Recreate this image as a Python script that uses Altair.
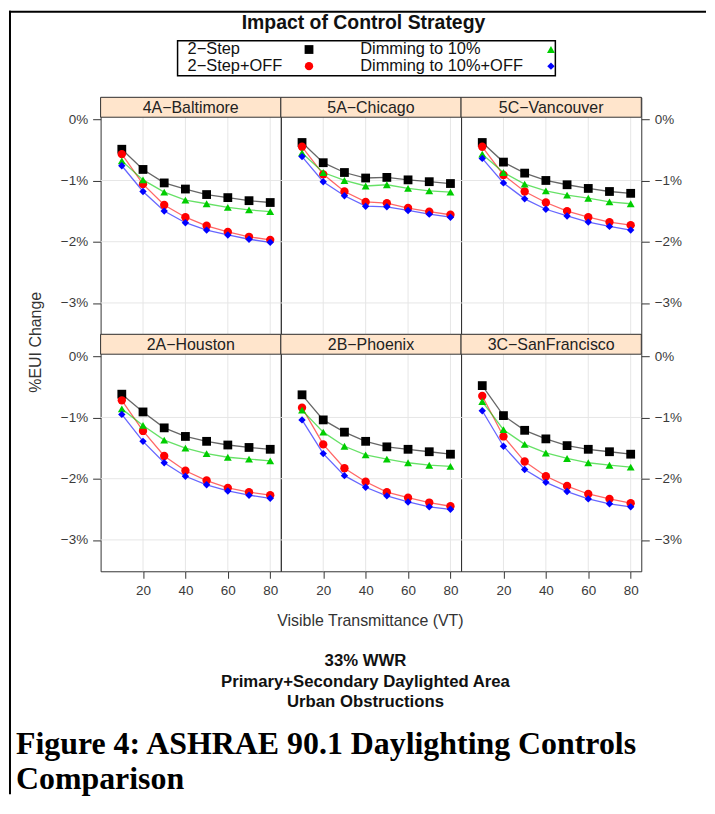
import altair as alt
import pandas as pd

FONT = "Liberation Sans"
SERIF = "Liberation Serif"

VT = [10, 20, 30, 40, 50, 60, 70, 80]
SERIES = ["2\u2212Step", "2\u2212Step+OFF", "Dimming to 10%", "Dimming to 10%+OFF"]
CITIES = ["4A\u2212Baltimore", "5A\u2212Chicago", "5C\u2212Vancouver",
          "2A\u2212Houston", "2B\u2212Phoenix", "3C\u2212SanFrancisco"]

BALTIMORE_2STEP = [-0.49, -0.82, -1.04, -1.14, -1.23, -1.28, -1.33, -1.36]
BALTIMORE_2STEP_OFF = [-0.57, -1.06, -1.40, -1.60, -1.74, -1.84, -1.92, -1.97]
BALTIMORE_DIM = [-0.68, -0.99, -1.19, -1.32, -1.38, -1.44, -1.48, -1.51]
BALTIMORE_DIM_OFF = [-0.76, -1.18, -1.50, -1.69, -1.81, -1.89, -1.96, -2.01]

CHICAGO_2STEP = [-0.38, -0.71, -0.87, -0.96, -0.95, -0.99, -1.02, -1.05]
CHICAGO_2STEP_OFF = [-0.45, -0.90, -1.18, -1.35, -1.37, -1.45, -1.51, -1.56]
CHICAGO_DIM = [-0.55, -0.87, -1.00, -1.09, -1.07, -1.13, -1.17, -1.19]
CHICAGO_DIM_OFF = [-0.61, -1.02, -1.25, -1.42, -1.43, -1.49, -1.55, -1.60]

VANCOUVER_2STEP = [-0.38, -0.70, -0.88, -1.00, -1.07, -1.13, -1.18, -1.21]
VANCOUVER_2STEP_OFF = [-0.45, -0.91, -1.18, -1.36, -1.50, -1.60, -1.68, -1.73]
VANCOUVER_DIM = [-0.57, -0.87, -1.06, -1.17, -1.24, -1.29, -1.35, -1.38]
VANCOUVER_DIM_OFF = [-0.64, -1.04, -1.30, -1.47, -1.58, -1.68, -1.75, -1.81]

HOUSTON_2STEP = [-0.62, -0.91, -1.17, -1.31, -1.39, -1.45, -1.49, -1.52]
HOUSTON_2STEP_OFF = [-0.72, -1.22, -1.63, -1.87, -2.03, -2.15, -2.22, -2.27]
HOUSTON_DIM = [-0.86, -1.13, -1.37, -1.50, -1.59, -1.65, -1.68, -1.71]
HOUSTON_DIM_OFF = [-0.95, -1.39, -1.74, -1.96, -2.10, -2.20, -2.27, -2.32]

PHOENIX_2STEP = [-0.63, -1.04, -1.24, -1.39, -1.48, -1.52, -1.56, -1.60]
PHOENIX_2STEP_OFF = [-0.84, -1.44, -1.83, -2.05, -2.22, -2.31, -2.39, -2.45]
PHOENIX_DIM = [-0.88, -1.24, -1.47, -1.61, -1.68, -1.74, -1.78, -1.80]
PHOENIX_DIM_OFF = [-1.04, -1.59, -1.95, -2.14, -2.28, -2.38, -2.46, -2.50]

SANFRANCISCO_2STEP = [-0.48, -0.97, -1.21, -1.35, -1.46, -1.52, -1.56, -1.60]
SANFRANCISCO_2STEP_OFF = [-0.65, -1.31, -1.72, -1.96, -2.12, -2.25, -2.33, -2.40]
SANFRANCISCO_DIM = [-0.74, -1.20, -1.44, -1.58, -1.67, -1.74, -1.78, -1.81]
SANFRANCISCO_DIM_OFF = [-0.89, -1.47, -1.85, -2.06, -2.21, -2.33, -2.41, -2.46]

CITY_DATA = [
    [BALTIMORE_2STEP, BALTIMORE_2STEP_OFF, BALTIMORE_DIM, BALTIMORE_DIM_OFF],
    [CHICAGO_2STEP, CHICAGO_2STEP_OFF, CHICAGO_DIM, CHICAGO_DIM_OFF],
    [VANCOUVER_2STEP, VANCOUVER_2STEP_OFF, VANCOUVER_DIM, VANCOUVER_DIM_OFF],
    [HOUSTON_2STEP, HOUSTON_2STEP_OFF, HOUSTON_DIM, HOUSTON_DIM_OFF],
    [PHOENIX_2STEP, PHOENIX_2STEP_OFF, PHOENIX_DIM, PHOENIX_DIM_OFF],
    [SANFRANCISCO_2STEP, SANFRANCISCO_2STEP_OFF, SANFRANCISCO_DIM, SANFRANCISCO_DIM_OFF],
]

X_TICKS = [20, 40, 60, 80]
Y_TICKS = [0, -1, -2, -3]
GRID_X = [20, 40, 60, 80]
GRID_Y = [-1, -2, -3]

LEG_COL = [0, 0, 1, 1]
LEG_ROW = [0, 1, 0, 1]

TITLE = "Impact of Control Strategy"
X_TITLE = "Visible Transmittance (VT)"
Y_TITLE = "%EUI Change"
NOTES = ["33% WWR", "Primary+Secondary Daylighted Area", "Urban Obstructions"]
CAPTION = ["Figure 4: ASHRAE 90.1 Daylighting Controls", "Comparison"]

COLORS = ["#000000", "#ff0000", "#00cd00", "#0000ff"]
SHAPES = ["square", "circle", "triangle-up", "diamond"]
SIZES = [78, 55, 88, 38]

W, H, STRIP = 181, 238, 20

xs = alt.Scale(domain=[0, 85], nice=False, zero=False)
ys = alt.Scale(domain=[-3.512, 0.358], nice=False, zero=False)
cs = alt.Scale(domain=SERIES, range=COLORS)
ss = alt.Scale(domain=SERIES, range=SHAPES)
zs = alt.Scale(domain=SERIES, range=SIZES)

LABEL_EXPR = "(datum.value < 0 ? '\u2212' : '') + abs(datum.value) + '%'"


def yaxis(orient):
    return alt.Axis(orient=orient, values=Y_TICKS, labelExpr=LABEL_EXPR, domain=False,
                    grid=False, tickSize=8, tickColor="#333333", labelFont=FONT,
                    labelFontSize=13.5, labelColor="#3a3a3a", labelPadding=5, title=None)


XAXIS = alt.Axis(orient="bottom", values=X_TICKS, domain=False, grid=False, tickSize=7,
                 tickColor="#333333", labelFont=FONT, labelFontSize=13.5,
                 labelColor="#3a3a3a", labelPadding=5, title=None, format="d")

dummy = pd.DataFrame({"k": [0]})


def text_layer(txt, x, y, size, bold=False, font=FONT, align="center", angle=0, color="#222222"):
    kw = dict(font=font, fontSize=size, align=align, baseline="alphabetic", color=color)
    if bold:
        kw["fontWeight"] = "bold"
    if angle:
        kw["angle"] = angle
        kw["baseline"] = "middle"
    return alt.Chart(pd.DataFrame({"t": [txt]})).mark_text(**kw).encode(
        text="t:N", x=alt.value(x), y=alt.value(y))


def border(x, x2, y, y2):
    return alt.Chart(dummy).mark_rect(color="#000000", strokeWidth=0).encode(
        x=alt.value(x), x2=alt.value(x2), y=alt.value(y), y2=alt.value(y2))


def panel(i, row, col):
    rows = []
    for s, vals in zip(SERIES, CITY_DATA[i]):
        for v, val in zip(VT, vals):
            rows.append({"vt": v, "series": s, "value": val})
    df = pd.DataFrame(rows)
    ya = yaxis("left") if col == 0 else (yaxis("right") if col == 2 else None)
    xa = XAXIS if row == 1 else None

    hgrid = alt.Chart(pd.DataFrame({"value": GRID_Y})).mark_rule(
        color="#e6e6e6", strokeWidth=1).encode(y=alt.Y("value:Q", scale=ys, axis=ya))
    vgrid = alt.Chart(pd.DataFrame({"vt": GRID_X})).mark_rule(
        color="#e6e6e6", strokeWidth=1).encode(x=alt.X("vt:Q", scale=xs, axis=xa))
    enc = dict(x=alt.X("vt:Q", scale=xs, axis=xa),
               y=alt.Y("value:Q", scale=ys, axis=ya),
               color=alt.Color("series:N", scale=cs, legend=None))
    lines = alt.Chart(df).mark_line(strokeWidth=1.3, opacity=0.6).encode(**enc)
    points = alt.Chart(df).mark_point(filled=True, opacity=1, strokeWidth=0).encode(
        **enc,
        shape=alt.Shape("series:N", scale=ss, legend=None),
        size=alt.Size("series:N", scale=zs, legend=None))
    strip_df = pd.DataFrame({"city": [CITIES[i]]})
    strip_rect = alt.Chart(strip_df).mark_rect(
        fill="#ffe5cc", stroke="#333333", strokeWidth=1).encode(
        x=alt.value(0), x2=alt.value(W), y=alt.value(0), y2=alt.value(STRIP))
    strip_text = alt.Chart(strip_df).mark_text(
        font=FONT, fontSize=16, color="#222222", baseline="middle").encode(
        text="city:N", x=alt.value(W / 2), y=alt.value(STRIP / 2 + 0.5))
    layers = [hgrid, vgrid, lines, points, strip_rect, strip_text]

    if row == 0 and col == 0:
        layers.append(border(-92, -90, -87, 700))
        layers.append(border(-92, 608, -87, -85))
        layers.append(text_layer(Y_TITLE, -65, 246, 16, angle=270, color="#333333"))
    if row == 1 and col == 0:
        layers.append(text_layer(CAPTION[0], -85, 422, 32, bold=True, font=SERIF,
                                 align="left", color="#000000"))
        layers.append(text_layer(CAPTION[1], -85, 457, 32, bold=True, font=SERIF,
                                 align="left", color="#000000"))
    if row == 1 and col == 1:
        layers.append(text_layer(X_TITLE, 90, 292.5, 16, color="#333333"))
        for note, yy in zip(NOTES, [333, 354, 374]):
            layers.append(text_layer(note, 85, yy, 16.8, bold=True, color="#111111"))

    base = alt.layer(*layers)
    if row == 0 and col == 1:
        leg = pd.DataFrame({"series": SERIES, "col": LEG_COL, "row": LEG_ROW})
        leg_text = alt.Chart(leg).mark_text(
            font=FONT, fontSize=16.5, align="left", baseline="alphabetic",
            color="#111111").encode(
            x=alt.X("col:Q", scale=alt.Scale(domain=[0, 1], range=[-93.7, 79.7]), axis=None),
            y=alt.Y("row:Q", scale=alt.Scale(domain=[0, 1], range=[-43.5, -26]), axis=None),
            text="series:N")
        leg_sym = alt.Chart(leg).mark_point(filled=True, opacity=1, strokeWidth=0).encode(
            x=alt.X("col:Q", scale=alt.Scale(domain=[0, 1], range=[28.3, 271.3]), axis=None),
            y=alt.Y("row:Q", scale=alt.Scale(domain=[0, 1], range=[-48, -31.3]), axis=None),
            color=alt.Color("series:N", scale=cs, legend=None),
            shape=alt.Shape("series:N", scale=ss, legend=None),
            size=alt.Size("series:N", scale=zs, legend=None))
        box = alt.Chart(dummy).mark_rect(fill="#ffffff", fillOpacity=0, stroke="#000000",
                                         strokeWidth=1.5).encode(
            x=alt.value(-103.7), x2=alt.value(275.7), y=alt.value(-56.7), y2=alt.value(-21.7))
        title = text_layer(TITLE, 83, -68.5, 19.5, bold=True, color="#111111")
        base = alt.layer(base, box, leg_text, leg_sym, title).resolve_scale(
            x="independent", y="independent")
    return base.properties(width=W, height=H)


panels = [panel(i, i // 3, i % 3) for i in range(6)]

chart = alt.concat(*panels, columns=3, spacing=0, bounds="flush").properties(
    padding=0
).configure(font=FONT).configure_view(stroke="#333333", strokeWidth=1)

chart.save("out.html", embed_options={"renderer": "svg", "actions": False})
